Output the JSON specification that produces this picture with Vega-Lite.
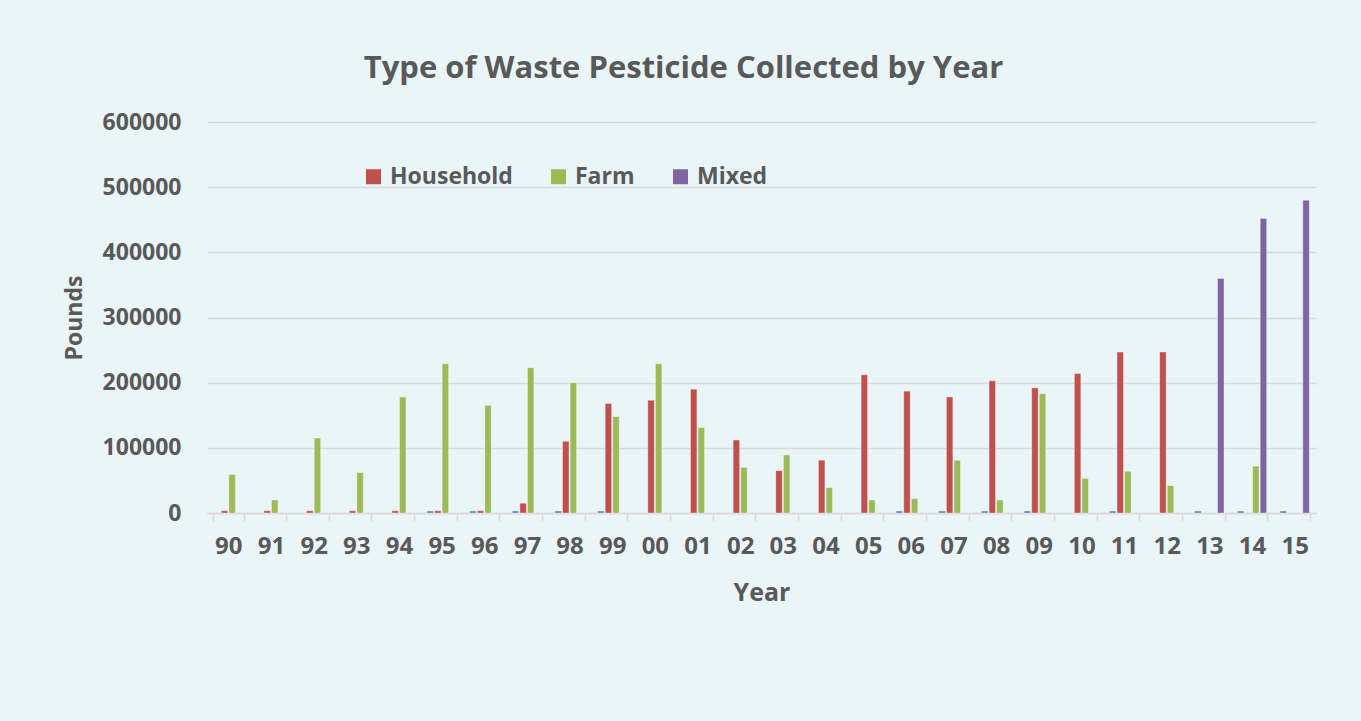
{
  "$schema": "https://vega.github.io/schema/vega-lite/v6.json",
  "width": 1109,
  "height": 391,
  "autosize": "none",
  "padding": {"left": 207, "top": 122, "right": 45, "bottom": 208},
  "background": "#EAF5F8",
  "title": {
    "text": "Type of Waste Pesticide Collected by Year",
    "frame": "group",
    "anchor": "middle",
    "dx": -78,
    "offset": 26,
    "font": "Open Sans",
    "fontSize": 31,
    "fontWeight": "bold",
    "color": "#595959"
  },
  "config": {
    "view": {"stroke": null},
    "font": "Open Sans"
  },
  "datasets": {
    "rows": [
      {"year": "90", "series": "Household", "pounds": 3500},
      {"year": "90", "series": "Farm", "pounds": 59000},
      {"year": "91", "series": "Household", "pounds": 3500},
      {"year": "91", "series": "Farm", "pounds": 20000},
      {"year": "92", "series": "Household", "pounds": 3500},
      {"year": "92", "series": "Farm", "pounds": 115000},
      {"year": "93", "series": "Household", "pounds": 3500},
      {"year": "93", "series": "Farm", "pounds": 62000},
      {"year": "94", "series": "Household", "pounds": 3500},
      {"year": "94", "series": "Farm", "pounds": 178000},
      {"year": "95", "series": "Year", "pounds": 3000},
      {"year": "95", "series": "Household", "pounds": 3500},
      {"year": "95", "series": "Farm", "pounds": 229000},
      {"year": "96", "series": "Year", "pounds": 3000},
      {"year": "96", "series": "Household", "pounds": 3500},
      {"year": "96", "series": "Farm", "pounds": 165000},
      {"year": "97", "series": "Year", "pounds": 3000},
      {"year": "97", "series": "Household", "pounds": 15000},
      {"year": "97", "series": "Farm", "pounds": 223000},
      {"year": "98", "series": "Year", "pounds": 3000},
      {"year": "98", "series": "Household", "pounds": 110000},
      {"year": "98", "series": "Farm", "pounds": 200000},
      {"year": "99", "series": "Year", "pounds": 3000},
      {"year": "99", "series": "Household", "pounds": 168000},
      {"year": "99", "series": "Farm", "pounds": 148000},
      {"year": "00", "series": "Household", "pounds": 173000},
      {"year": "00", "series": "Farm", "pounds": 229000},
      {"year": "01", "series": "Household", "pounds": 190000},
      {"year": "01", "series": "Farm", "pounds": 131000},
      {"year": "02", "series": "Household", "pounds": 112000},
      {"year": "02", "series": "Farm", "pounds": 70000},
      {"year": "03", "series": "Household", "pounds": 65000},
      {"year": "03", "series": "Farm", "pounds": 89000},
      {"year": "04", "series": "Household", "pounds": 81000},
      {"year": "04", "series": "Farm", "pounds": 39000},
      {"year": "05", "series": "Household", "pounds": 212000},
      {"year": "05", "series": "Farm", "pounds": 20000},
      {"year": "06", "series": "Year", "pounds": 3000},
      {"year": "06", "series": "Household", "pounds": 187000},
      {"year": "06", "series": "Farm", "pounds": 22000},
      {"year": "07", "series": "Year", "pounds": 3000},
      {"year": "07", "series": "Household", "pounds": 178000},
      {"year": "07", "series": "Farm", "pounds": 81000},
      {"year": "08", "series": "Year", "pounds": 3000},
      {"year": "08", "series": "Household", "pounds": 203000},
      {"year": "08", "series": "Farm", "pounds": 20000},
      {"year": "09", "series": "Year", "pounds": 3000},
      {"year": "09", "series": "Household", "pounds": 192000},
      {"year": "09", "series": "Farm", "pounds": 183000},
      {"year": "10", "series": "Household", "pounds": 214000},
      {"year": "10", "series": "Farm", "pounds": 53000},
      {"year": "11", "series": "Year", "pounds": 3000},
      {"year": "11", "series": "Household", "pounds": 247000},
      {"year": "11", "series": "Farm", "pounds": 64000},
      {"year": "12", "series": "Household", "pounds": 247000},
      {"year": "12", "series": "Farm", "pounds": 42000},
      {"year": "13", "series": "Year", "pounds": 3000},
      {"year": "13", "series": "Mixed", "pounds": 360000},
      {"year": "14", "series": "Year", "pounds": 3000},
      {"year": "14", "series": "Farm", "pounds": 72000},
      {"year": "14", "series": "Mixed", "pounds": 452000},
      {"year": "15", "series": "Year", "pounds": 3000},
      {"year": "15", "series": "Mixed", "pounds": 480000}
    ]
  },
  "data": {"name": "rows"},
  "mark": {"type": "bar", "stroke": "#ffffff", "strokeWidth": 0.6, "strokeOpacity": 0.6},
  "encoding": {
    "x": {
      "field": "year",
      "type": "ordinal",
      "sort": ["90","91","92","93","94","95","96","97","98","99","00","01","02","03","04","05","06","07","08","09","10","11","12","13","14","15"],
      "scale": {"paddingInner": 0.287, "paddingOuter": 0.1435},
      "axis": {
        "title": "Year",
        "titleFont": "Open Sans",
        "titleFontSize": 25,
        "titleFontWeight": "bold",
        "titleColor": "#595959",
        "titlePadding": 22,
        "labelAngle": 0,
        "labelFont": "Open Sans",
        "labelFontSize": 24,
        "labelFontWeight": "bold",
        "labelColor": "#595959",
        "labelPadding": 13,
        "domainColor": "#D9D9D9",
        "domainWidth": 1.5,
        "tickColor": "#D9D9D9",
        "tickWidth": 1.5,
        "tickSize": 8,
        "tickBand": "extent",
        "grid": false
      }
    },
    "xOffset": {
      "field": "series",
      "type": "nominal",
      "sort": ["Year", "Household", "Farm", "Mixed"],
      "scale": {"domain": ["Year", "Household", "Farm", "Mixed"], "paddingInner": 0.15, "paddingOuter": 0.075}
    },
    "y": {
      "field": "pounds",
      "type": "quantitative",
      "scale": {"domain": [0, 600000], "nice": false},
      "axis": {
        "title": "Pounds",
        "titleFont": "Open Sans",
        "titleFontSize": 23,
        "titleFontWeight": "bold",
        "titleColor": "#595959",
        "titlePadding": 16,
        "values": [0, 100000, 200000, 300000, 400000, 500000, 600000],
        "format": "d",
        "labelFont": "Open Sans",
        "labelFontSize": 23,
        "labelFontWeight": "bold",
        "labelColor": "#595959",
        "labelPadding": 26,
        "domain": false,
        "ticks": false,
        "grid": true,
        "gridColor": "#D9D9D9",
        "gridWidth": 1.5
      }
    },
    "color": {
      "field": "series",
      "type": "nominal",
      "scale": {
        "domain": ["Year", "Household", "Farm", "Mixed"],
        "range": ["#4F81BD", "#C0504D", "#9BBB59", "#8064A2"]
      },
      "legend": {
        "values": ["Household", "Farm", "Mixed"],
        "title": null,
        "orient": "none",
        "legendX": 155,
        "legendY": 43,
        "direction": "horizontal",
        "symbolType": "square",
        "symbolSize": 225,
        "symbolStrokeWidth": 0,
        "symbolOpacity": 1,
        "labelFont": "Open Sans",
        "labelFontSize": 23,
        "labelFontWeight": "bold",
        "labelColor": "#595959",
        "labelOffset": 5,
        "columnPadding": 34
      }
    }
  }
}
